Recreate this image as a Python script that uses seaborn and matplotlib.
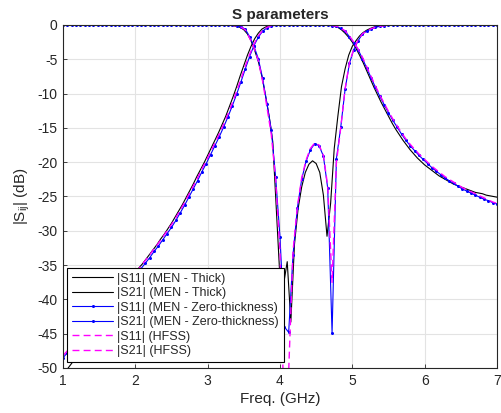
import numpy as np
import matplotlib
matplotlib.use("Agg")
import matplotlib.pyplot as plt
import seaborn as sns

# frequency grids (GHz)
freq_thick = np.linspace(1, 7, 121)   # 0.05 GHz step
freq_zero = np.linspace(1, 7, 101)    # 0.06 GHz step (MEN zero-thickness and HFSS)

# |S11| MEN - Thick (dB)
s11_thick = [0.0] * 45 + [
    -0.02, -0.05, -0.1, -0.2, -0.35, -0.7, -1.3, -2.3, -3.7, -5.3,
    -7.5, -10.3, -13.3, -17.0, -27.0, -37.0, -37.8, -34.5, -43.3, -32.0,
    -26.8, -23.6, -21.5, -20.3, -19.8, -20.2, -21.5, -24.8, -30.8, -26.0,
    -18.0, -13.3, -9.0, -6.4, -4.4, -3.1, -2.3, -1.6, -1.1, -0.75,
    -0.5, -0.3, -0.2, -0.1, -0.05, -0.02] + [0.0] * 30

# |S21| MEN - Thick (dB)
s21_thick = [
    -51.0, -50.3, -49.6, -48.9, -48.2, -47.5, -46.8, -46.1, -45.4, -44.6,
    -43.9, -43.2, -42.4, -41.7, -40.9, -40.1, -39.4, -38.6, -37.8, -37.0,
    -36.1, -35.4, -34.8, -34.1, -33.4, -32.7, -32.0, -31.2, -30.5, -29.7,
    -28.9, -28.0, -27.1, -26.2, -25.2, -24.2, -23.2, -22.1, -21.1, -20.1,
    -19.0, -17.9, -16.8, -15.7, -14.5, -13.3, -11.9, -10.5, -9.0, -7.4,
    -5.9, -4.4, -3.1, -2.0, -1.2, -0.6, -0.3, -0.1, -0.05] + [0.0] * 14 + [
    -0.02, -0.08, -0.2, -0.35, -0.7, -1.2, -1.8, -2.5, -3.4, -4.4,
    -5.5, -6.7, -7.9, -9.1, -10.2, -11.3, -12.3, -13.3, -14.3, -15.2,
    -16.0, -16.8, -17.5, -18.2, -18.8, -19.4, -19.9, -20.4, -20.8, -21.2,
    -21.6, -22.0, -22.3, -22.6, -22.9, -23.2, -23.4, -23.6, -23.8, -24.0,
    -24.2, -24.4, -24.5, -24.6, -24.8, -24.9, -25.0, -25.1]

# |S11| MEN - Zero-thickness (dB)
s11_zero = [0.0] * 38 + [
    -0.02, -0.05, -0.1, -0.25, -0.6, -1.7, -3.1, -4.9, -7.8, -11.5,
    -15.3, -22.2, -30.9, -44.0, -44.8, -33.5, -26.7, -22.5, -19.9, -18.2,
    -17.3, -17.6, -19.1, -23.8, -44.9, -19.5, -14.9, -9.4, -5.6, -3.6,
    -2.3, -1.3, -0.9, -0.6, -0.35, -0.2, -0.1, -0.05, -0.02] + [0.0] * 24

# |S21| MEN - Zero-thickness (dB)
s21_zero = [
    -48.5, -47.8, -47.1, -46.5, -45.8, -45.1, -44.4, -43.7, -43.0, -42.3,
    -41.6, -40.9, -40.2, -39.4, -38.7, -37.9, -37.1, -36.3, -35.5, -34.7,
    -33.9, -33.0, -32.2, -31.3, -30.4, -29.5, -28.5, -27.4, -26.3, -25.1,
    -23.9, -22.7, -21.4, -20.2, -18.9, -17.6, -16.3, -14.9, -13.4, -11.8,
    -10.1, -8.3, -6.4, -4.6, -3.0, -1.8, -0.9, -0.4, -0.15, -0.05] + [0.0] * 11 + [
    -0.05, -0.1, -0.2, -0.5, -0.9, -1.7, -2.6, -3.6, -4.9, -6.3,
    -7.7, -9.1, -10.4, -11.6, -12.8, -13.9, -14.9, -15.9, -16.8, -17.6,
    -18.3, -19.0, -19.6, -20.2, -20.8, -21.3, -21.8, -22.3, -22.7, -23.1,
    -23.5, -23.9, -24.2, -24.5, -24.8, -25.1, -25.4, -25.6, -25.9, -26.1]

# |S11| HFSS (dB)
s11_hfss = [0.0] * 38 + [
    -0.02, -0.06, -0.12, -0.3, -0.7, -1.9, -3.3, -5.2, -8.2, -12.0,
    -16.0, -22.5, -33.0, -58.0, -50.5, -33.0, -26.5, -22.3, -19.7, -18.0,
    -17.2, -17.5, -19.0, -23.5, -37.5, -20.0, -15.0, -9.3, -5.5, -3.5,
    -2.2, -1.3, -0.85, -0.55, -0.33, -0.2, -0.1, -0.05, -0.02] + [0.0] * 24

# |S21| HFSS (dB)
s21_hfss = [
    -48.2, -47.5, -46.8, -46.1, -45.4, -44.7, -44.0, -43.3, -42.6, -41.9,
    -41.2, -40.5, -39.8, -39.0, -38.3, -37.5, -36.7, -35.9, -35.1, -34.3,
    -33.5, -32.6, -31.8, -30.9, -30.0, -29.1, -28.1, -27.0, -25.9, -24.7,
    -23.5, -22.3, -21.0, -19.8, -18.5, -17.2, -15.9, -14.5, -13.0, -11.4,
    -9.7, -7.9, -6.0, -4.3, -2.8, -1.6, -0.8, -0.35, -0.12, -0.04] + [0.0] * 11 + [
    -0.04, -0.09, -0.18, -0.45, -0.85, -1.6, -2.5, -3.5, -4.7, -6.1,
    -7.5, -8.9, -10.2, -11.4, -12.6, -13.7, -14.7, -15.7, -16.6, -17.4,
    -18.1, -18.8, -19.4, -20.0, -20.6, -21.1, -21.6, -22.1, -22.5, -22.9,
    -23.3, -23.7, -24.0, -24.3, -24.6, -24.9, -25.2, -25.5, -25.8, -26.0]

sns.set_theme(style="whitegrid")
plt.rcParams["font.family"] = ["Liberation Sans", "DejaVu Sans"]
plt.rcParams["axes.unicode_minus"] = False
plt.rcParams["mathtext.fontset"] = "custom"
plt.rcParams["mathtext.rm"] = "Liberation Sans"
plt.rcParams["mathtext.it"] = "Liberation Sans"

fig = plt.figure(figsize=(5.02, 4.13), dpi=100)
ax = fig.add_axes([0.1255, 0.109, 0.8645, 0.8305])

sns.lineplot(x=freq_thick, y=s11_thick, ax=ax, color="black", linewidth=0.8,
             label="|S11| (MEN - Thick)")
sns.lineplot(x=freq_thick, y=s21_thick, ax=ax, color="black", linewidth=0.8,
             label="|S21| (MEN - Thick)")
sns.lineplot(x=freq_zero, y=s11_zero, ax=ax, color="blue", linewidth=0.8,
             marker="o", markersize=2.2, markeredgewidth=0,
             label="|S11| (MEN - Zero-thickness)")
sns.lineplot(x=freq_zero, y=s21_zero, ax=ax, color="blue", linewidth=0.8,
             marker="o", markersize=2.2, markeredgewidth=0,
             label="|S21| (MEN - Zero-thickness)")
sns.lineplot(x=freq_zero, y=s11_hfss, ax=ax, color="magenta", linewidth=1.0,
             linestyle=(0, (5, 3)), label="|S11| (HFSS)")
sns.lineplot(x=freq_zero, y=s21_hfss, ax=ax, color="magenta", linewidth=1.0,
             linestyle=(0, (5, 3)), label="|S21| (HFSS)")

ax.set_xlim(1, 7)
ax.set_ylim(-50, 0)
ax.set_xticks(range(1, 8))
ax.set_yticks(range(-50, 1, 5))
ax.set_facecolor("white")
ax.grid(True, color="#e3e3e3", linewidth=0.8)
for sp in ax.spines.values():
    sp.set_color("#262626")
    sp.set_linewidth(0.8)
ax.tick_params(direction="in", length=3, width=0.6, colors="#262626",
               labelsize=10, pad=4, top=False, right=False, bottom=True, left=True)

ax.set_title("S parameters", fontsize=11, fontweight="bold", pad=4)
ax.set_xlabel("Freq. (GHz)", fontsize=11, labelpad=3, color="#262626")
ax.set_ylabel("|S$_{ij}$| (dB)", fontsize=11, labelpad=4, color="#262626")

leg = ax.legend(loc="lower left", bbox_to_anchor=(0.009, 0.017), borderaxespad=0,
                fontsize=9, frameon=True, fancybox=False, framealpha=1,
                edgecolor="black", handlelength=3.3, handletextpad=0.3,
                labelspacing=0.2, borderpad=0.4)
leg.get_frame().set_linewidth(0.8)

fig.savefig("out.png", dpi=100)
